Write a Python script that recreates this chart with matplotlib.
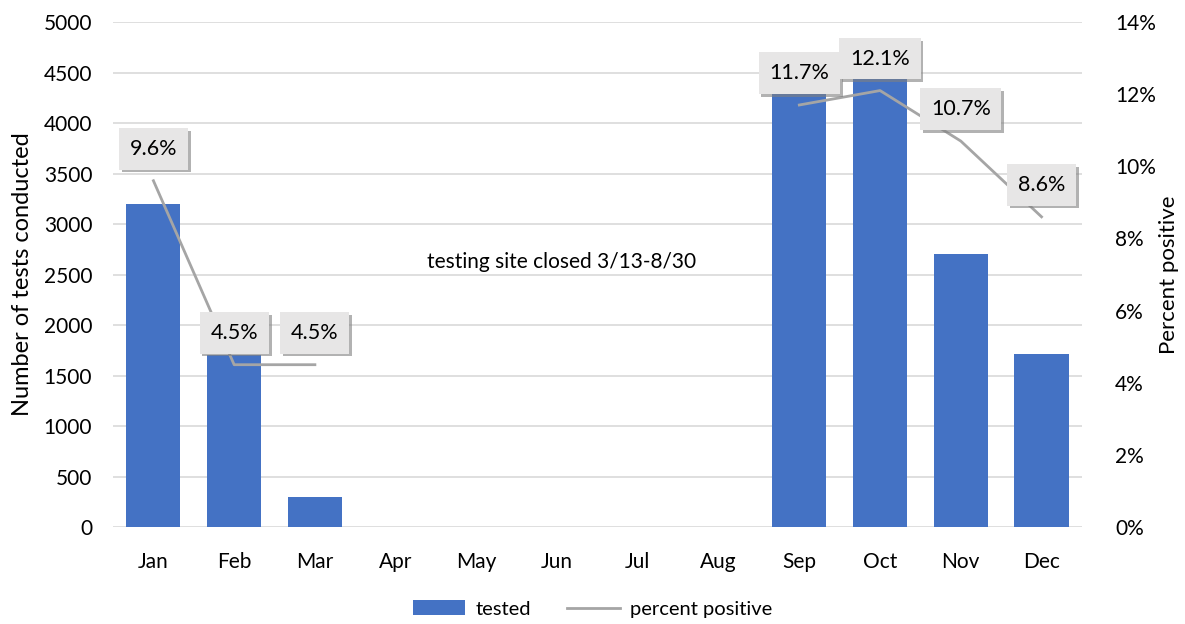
import matplotlib.pyplot as plt
import matplotlib.patheffects as pe
import numpy as np

months = ["Jan", "Feb", "Mar", "Apr", "May", "Jun", "Jul", "Aug", "Sep", "Oct", "Nov", "Dec"]
tested = [3200, 1700, 300, 0, 0, 0, 0, 0, 4350, 4550, 2700, 1710]
# percent positive, None where the site was closed
pct_positive = [9.6, 4.5, 4.5, None, None, None, None, None, 11.7, 12.1, 10.7, 8.6]

plt.rcParams['font.family'] = ['Lato', 'DejaVu Sans']

fig = plt.figure(figsize=(11.85, 6.24), dpi=100)
ax = fig.add_axes([0.0954, 0.1554, 0.8176, 0.8093])
ax2 = ax.twinx()

x = np.arange(len(months))
bars = ax.bar(x, tested, width=0.67, color='#4472C4', label='tested', zorder=2)

ax.set_ylim(0, 5000)
ax.set_yticks(np.arange(0, 5001, 500))
ax.set_xlim(-0.5, 11.5)
ax.set_xticks(x)
ax.set_xticklabels(months)
ax.yaxis.grid(True, color='#D9D9D9', linewidth=1.2, zorder=0)
ax.set_axisbelow(True)
ax.set_ylabel("Number of tests conducted", fontsize=17, labelpad=8)
ax.tick_params(axis='y', length=0, labelsize=15, pad=15)
ax.tick_params(axis='x', length=0, labelsize=15, pad=18)

# line
y = np.array([np.nan if v is None else v for v in pct_positive], dtype=float)
line, = ax2.plot(x, y, color='#A5A5A5', linewidth=2, label='percent positive', zorder=3)
ax2.set_ylim(0, 14)
ax2.set_yticks(np.arange(0, 15, 2))
ax2.set_yticklabels([f"{v}%" for v in range(0, 15, 2)])
ax2.set_ylabel("Percent positive", fontsize=16, labelpad=2)
ax2.tick_params(length=0, labelsize=15, pad=24)

for a in (ax, ax2):
    for s in a.spines.values():
        s.set_visible(False)

for xi, v in zip(x, pct_positive):
    if v is None:
        continue
    t = ax2.annotate(f"{v}%", (xi, v), xytext=(0, 23), textcoords='offset points',
                     ha='center', va='center', fontsize=15.5, zorder=5,
                     bbox=dict(boxstyle='square,pad=0.5', facecolor='#E7E6E6', edgecolor='none'))
    t.get_bbox_patch().set_path_effects([
        pe.withSimplePatchShadow(offset=(2, -2), shadow_rgbFace='#808080', alpha=0.6),
        pe.Normal()])

ax.text(5.05, 2620, "testing site closed 3/13-8/30", ha='center', va='center', fontsize=15)

fig.legend([bars, line], ['tested', 'percent positive'], loc='center', ncol=2,
           bbox_to_anchor=(0.5, 0.024), frameon=False, fontsize=14.5,
           handlelength=2.6, columnspacing=1.8, handletextpad=0.5)

fig.savefig("out.png", dpi=100)
